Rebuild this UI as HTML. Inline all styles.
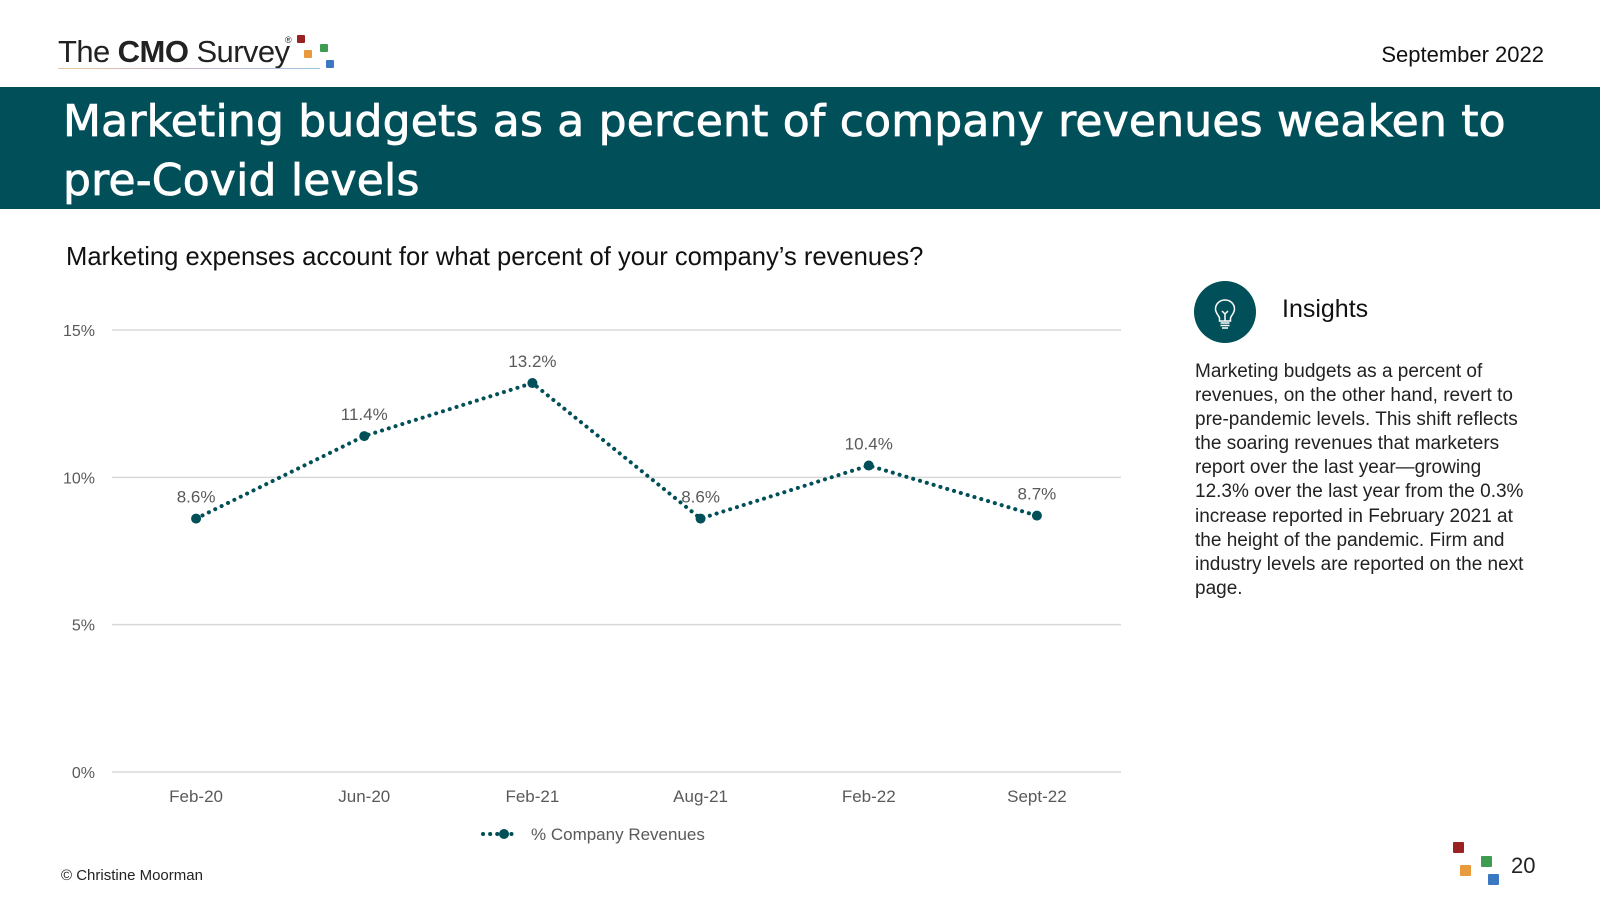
<!DOCTYPE html>
<html><head><meta charset="utf-8">
<style>
*{margin:0;padding:0;box-sizing:border-box}
body{width:1600px;height:900px;background:#fff;position:relative;overflow:hidden;font-family:"Liberation Sans",sans-serif;color:#222}
.abs{position:absolute;white-space:nowrap}
#band{position:absolute;left:0;top:87px;width:1600px;height:122px;background:#004f59}
#title{position:absolute;left:63px;top:92px;color:#fff;font-family:"DejaVu Sans",sans-serif;font-size:44px;line-height:59px;letter-spacing:0.2px;font-weight:500;-webkit-text-stroke:0.8px #fff}
#insight-text{position:absolute;left:1195px;top:360px;font-size:19px;line-height:24.1px;color:#222;white-space:nowrap}
</style></head><body>
<div class="abs" style="left:58px;top:33px;width:290px;height:40px">
  <span class="abs" style="left:0;top:1px;font-size:31px;letter-spacing:-0.6px;color:#222">The <b style="letter-spacing:-0.5px">CMO</b> Survey</span>
  <span class="abs" style="left:227px;top:2px;font-size:9px">®</span>
  <div class="abs" style="left:239px;top:2px;width:8px;height:8px;background:#9b2222;border-radius:1px"></div>
  <div class="abs" style="left:246px;top:17px;width:8px;height:8px;background:#e89a3c;border-radius:1px"></div>
  <div class="abs" style="left:262px;top:11px;width:8px;height:8px;background:#3f9b50;border-radius:1px"></div>
  <div class="abs" style="left:268px;top:27px;width:8px;height:8px;background:#3b78c2;border-radius:1px"></div>
  <div class="abs" style="left:0;top:35px;width:262px;height:1px;background:linear-gradient(90deg,#e8c89a,#c8b0d0,#a0c8e0)"></div>
</div>
<div class="abs" style="right:56px;top:42px;font-size:22px;color:#111">September 2022</div>
<div id="band"></div>
<div id="title">Marketing budgets as a percent of company revenues weaken to<br>pre-Covid levels</div>
<div class="abs" style="left:66px;top:243px;font-size:25.6px;color:#111">Marketing expenses account for what percent of your company’s revenues?</div>

<svg id="chart" class="abs" style="left:0;top:0" width="1150" height="860"></svg>

<svg class="abs" style="left:1194px;top:281px" width="62" height="62">
  <circle cx="31" cy="31" r="31" fill="#004f59"/>
  <path d="M31 19c-6 0-9.5 4.5-9.5 9 0 4 3 6 4 9v3h11v-3c1-3 4-5 4-9 0-4.5-3.5-9-9.5-9z" fill="none" stroke="#fff" stroke-width="1.5"/>
  <path d="M28 30l3 3 3-3M31 33v7M26.5 42h9M26.5 44.5h9M28 47h6" fill="none" stroke="#fff" stroke-width="1.5"/>
</svg>
<div class="abs" style="left:1282px;top:295px;font-size:25px;color:#111">Insights</div>
<div id="insight-text">Marketing budgets as a percent of<br>revenues, on the other hand, revert to<br>pre-pandemic levels. This shift reflects<br>the soaring revenues that marketers<br>report over the last year—growing<br>12.3% over the last year from the 0.3%<br>increase reported in February 2021 at<br>the height of the pandemic. Firm and<br>industry levels are reported on the next<br>page.</div>

<div class="abs" style="left:61px;top:867px;font-size:15px;color:#222">© Christine Moorman</div>
<div class="abs" style="left:1450px;top:840px;width:50px;height:50px">
  <div class="abs" style="left:3px;top:2px;width:11px;height:11px;background:#9b2222;border-radius:1px"></div>
  <div class="abs" style="left:10px;top:25px;width:11px;height:11px;background:#e89a3c;border-radius:1px"></div>
  <div class="abs" style="left:31px;top:16px;width:11px;height:11px;background:#3f9b50;border-radius:1px"></div>
  <div class="abs" style="left:38px;top:34px;width:11px;height:11px;background:#3b78c2;border-radius:1px"></div>
</div>
<div class="abs" style="left:1511px;top:853px;font-size:22px;color:#222">20</div>

<script>
const categories = ["Feb-20","Jun-20","Feb-21","Aug-21","Feb-22","Sept-22"];
const values = [8.6, 11.4, 13.2, 8.6, 10.4, 8.7];
const valueLabels = ["8.6%","11.4%","13.2%","8.6%","10.4%","8.7%"];
const yTicks = [0, 5, 10, 15];
const yTickLabels = ["0%","5%","10%","15%"];

const NS = "http://www.w3.org/2000/svg";
const svg = document.getElementById('chart');
const x0 = 112, x1 = 1121, yTop = 330, yBot = 772, yMax = 15;
const band = (x1 - x0) / categories.length;
const xs = i => x0 + band * (i + 0.5);
const ys = v => yBot - (v / yMax) * (yBot - yTop);
function mk(tag, attrs){const e=document.createElementNS(NS,tag);for(const k in attrs)e.setAttribute(k,attrs[k]);svg.appendChild(e);return e;}

yTicks.forEach((t,i)=>{
  const g = mk('line',{x1:x0,x2:x1,y1:ys(t),y2:ys(t),stroke:'#d9d9d9','stroke-width':1.5});
  
  
  const tx = mk('text',{x:95,y:ys(t)+6,'text-anchor':'end','font-size':16,fill:'#595959','font-family':'Liberation Sans, sans-serif'});
  tx.textContent = yTickLabels[i];
  
  
});
categories.forEach((c,i)=>{
  const tx = mk('text',{x:xs(i),y:802,'text-anchor':'middle','font-size':17,fill:'#595959','font-family':'Liberation Sans, sans-serif'});
  tx.textContent = c;
  
  
});
const pts = values.map((v,i)=>xs(i)+','+ys(v)).join(' ');
const line = mk('polyline',{points:pts,fill:'none',stroke:'#004f59','stroke-width':4,'stroke-dasharray':'0.1 7','stroke-linecap':'round'});


values.forEach((v,i)=>{
  const c = mk('circle',{cx:xs(i),cy:ys(v),r:5,fill:'#004f59'});
  
  
  const t = mk('text',{x:xs(i),y:ys(v)-16,'text-anchor':'middle','font-size':17,fill:'#595959','font-family':'Liberation Sans, sans-serif'});
  t.textContent = valueLabels[i];
  
  
});
const lg = mk('line',{x1:483,x2:518,y1:834,y2:834,stroke:'#004f59','stroke-width':4,'stroke-dasharray':'0.1 7','stroke-linecap':'round'});


const lc = mk('circle',{cx:504,cy:834,r:5,fill:'#004f59'});


const lt = mk('text',{x:531,y:840,'font-size':17,fill:'#595959','font-family':'Liberation Sans, sans-serif'});
lt.textContent = '% Company Revenues';


</script>
</body></html>
